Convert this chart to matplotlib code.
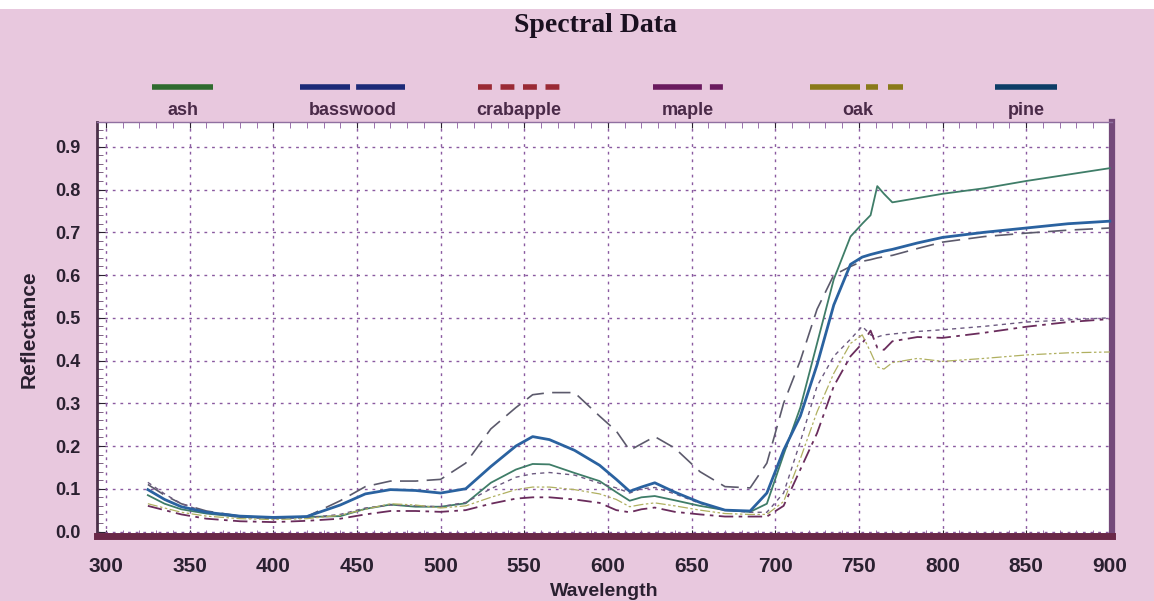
import matplotlib
matplotlib.use("Agg")
import matplotlib.pyplot as plt
from matplotlib.lines import Line2D
from matplotlib.patches import Rectangle
from matplotlib.ticker import MultipleLocator

# ---------------- data ----------------
wavelength = [325, 335, 345, 360, 380, 400, 420, 440, 455, 470, 485, 500, 515, 530, 545,
              555, 565, 580, 595, 605, 613, 620, 628, 640, 655, 670, 685, 695, 705, 715,
              725, 735, 745, 752, 757, 761, 765, 770, 785, 800, 825, 850, 875, 900]

ash = [0.085, 0.065, 0.052, 0.042, 0.034, 0.032, 0.034, 0.036, 0.053, 0.063, 0.058, 0.058, 0.066, 0.114, 0.145,
       0.158, 0.157, 0.137, 0.118, 0.092, 0.072, 0.080, 0.083, 0.073, 0.060, 0.050, 0.046, 0.065, 0.180, 0.290,
       0.440, 0.590, 0.690, 0.720, 0.740, 0.808, 0.790, 0.770, 0.780, 0.790, 0.803, 0.820, 0.835, 0.850]

basswood = [0.110, 0.085, 0.065, 0.048, 0.036, 0.032, 0.035, 0.072, 0.105, 0.118, 0.118, 0.122, 0.160, 0.240, 0.290,
            0.320, 0.325, 0.325, 0.270, 0.235, 0.190, 0.205, 0.222, 0.195, 0.140, 0.105, 0.102, 0.160, 0.300, 0.400,
            0.520, 0.600, 0.620, 0.632, 0.636, 0.640, 0.643, 0.646, 0.662, 0.677, 0.690, 0.698, 0.705, 0.710]

crabapple = [0.115, 0.088, 0.065, 0.045, 0.033, 0.030, 0.032, 0.040, 0.055, 0.062, 0.060, 0.058, 0.068, 0.100, 0.127,
             0.135, 0.138, 0.132, 0.113, 0.102, 0.090, 0.100, 0.103, 0.088, 0.066, 0.050, 0.045, 0.045, 0.090, 0.210,
             0.340, 0.410, 0.450, 0.480, 0.460, 0.455, 0.460, 0.462, 0.468, 0.472, 0.480, 0.490, 0.495, 0.500]

maple = [0.060, 0.050, 0.040, 0.030, 0.024, 0.022, 0.025, 0.030, 0.040, 0.048, 0.048, 0.046, 0.050, 0.065, 0.077,
         0.080, 0.080, 0.075, 0.067, 0.050, 0.045, 0.052, 0.056, 0.046, 0.040, 0.035, 0.035, 0.035, 0.060, 0.145,
         0.230, 0.340, 0.410, 0.440, 0.470, 0.430, 0.425, 0.445, 0.455, 0.453, 0.465, 0.479, 0.490, 0.497]

oak = [0.065, 0.055, 0.045, 0.036, 0.030, 0.028, 0.030, 0.038, 0.052, 0.065, 0.062, 0.055, 0.060, 0.080, 0.098,
       0.104, 0.104, 0.098, 0.088, 0.075, 0.058, 0.063, 0.067, 0.060, 0.050, 0.042, 0.040, 0.040, 0.070, 0.170,
       0.280, 0.370, 0.440, 0.460, 0.420, 0.385, 0.380, 0.395, 0.405, 0.398, 0.405, 0.413, 0.418, 0.420]

pine = [0.098, 0.075, 0.058, 0.045, 0.036, 0.033, 0.035, 0.062, 0.088, 0.098, 0.096, 0.090, 0.100, 0.152, 0.200,
        0.222, 0.215, 0.190, 0.155, 0.122, 0.094, 0.104, 0.114, 0.092, 0.068, 0.050, 0.048, 0.090, 0.190, 0.270,
        0.390, 0.530, 0.625, 0.642, 0.648, 0.652, 0.656, 0.660, 0.675, 0.688, 0.700, 0.710, 0.720, 0.726]

series_names = ["ash", "basswood", "crabapple", "maple", "oak", "pine"]
series_values = [ash, basswood, crabapple, maple, oak, pine]

x_ticks = [300, 350, 400, 450, 500, 550, 600, 650, 700, 750, 800, 850, 900]
y_ticks = [0.0, 0.1, 0.2, 0.3, 0.4, 0.5, 0.6, 0.7, 0.8, 0.9]

# ---------------- styles ----------------
SANS = ["Liberation Sans", "DejaVu Sans"]
plot_styles = {
    "ash":       dict(color="#3f7d68", lw=1.3, ls="-"),
    "basswood":  dict(color="#5c5a6c", lw=1.2, ls=(0, (11, 5))),
    "crabapple": dict(color="#6c5a80", lw=1.0, ls=(0, (3, 3))),
    "maple":     dict(color="#6a2c5c", lw=1.3, ls=(0, (8, 3, 2, 3))),
    "oak":       dict(color="#b0b060", lw=0.9, ls=(0, (8, 2, 2, 2, 2, 2))),
    "pine":      dict(color="#2a62a0", lw=2.0, ls="-"),
}
legend_styles = {
    "ash":       dict(color="#2f6b2f", ls="-"),
    "basswood":  dict(color="#1c2a78", ls=(0, (9.0, 1.1, 8.8, 5))),
    "crabapple": dict(color="#9a2a35", ls=(0, (2.5, 1.55))),
    "maple":     dict(color="#6a1a5e", ls=(0, (8.8, 1.44, 2.34, 10))),
    "oak":       dict(color="#8a7a1a", ls=(0, (9.0, 1.08, 2.16, 1.8, 2.7, 10))),
    "pine":      dict(color="#0d3d66", ls="-"),
}
legend_x = {"ash": (152, 213), "basswood": (300, 405), "crabapple": (478, 560),
            "maple": (653, 723), "oak": (810, 905), "pine": (995, 1057)}

W, H = 1154, 601
fig = plt.figure(figsize=(W / 100, H / 100), dpi=100)
fig.patch.set_facecolor("#e8c8de")
fig.patches.append(Rectangle((0, 1 - 9 / H), 1, 9 / H, transform=fig.transFigure,
                             facecolor="white", edgecolor="none", zorder=0))

left, right, top, bottom = 97, 1112, 122, 536
ax = fig.add_axes([left / W, 1 - bottom / H, (right - left) / W, (bottom - top) / H])
ax.set_facecolor("white")

for name, vals in zip(series_names, series_values):
    st = plot_styles[name]
    ax.plot(wavelength, vals, color=st["color"], lw=st["lw"], linestyle=st["ls"], zorder=3)

ax.set_xlim(294.6, 901.3)
ax.set_ylim(-0.0105, 0.958)
ax.set_xticks(x_ticks)
ax.set_yticks(y_ticks)
ax.set_xticklabels([str(t) for t in x_ticks])
ax.set_yticklabels([f"{t:.1f}" for t in y_ticks])
ax.xaxis.set_minor_locator(MultipleLocator(10))
ax.yaxis.set_minor_locator(MultipleLocator(0.02))

ax.grid(True, which="major", color="#8a5aa0", linestyle=(0, (2, 3.5)), lw=1.0, zorder=1)
ax.tick_params(axis="x", which="major", direction="in", length=4, pad=15, labelsize=15,
               colors="#2a2030", top=True)
ax.tick_params(axis="x", which="minor", direction="in", length=4, color="#8a5aa0", top=True)
ax.tick_params(axis="y", which="major", direction="in", length=6, pad=12, labelsize=13,
               colors="#2a2030")
ax.tick_params(axis="y", which="minor", direction="in", length=4, color="#6a4a70")
for lab in ax.get_xticklabels() + ax.get_yticklabels():
    lab.set_fontweight("bold")
    lab.set_family(SANS)

ax.spines["bottom"].set_color("#6a2848")
ax.spines["bottom"].set_linewidth(5)
ax.spines["left"].set_color("#4a3048")
ax.spines["left"].set_linewidth(2)
ax.spines["right"].set_color("#74497a")
ax.spines["right"].set_linewidth(4.5)
ax.spines["top"].set_color("#9070a0")
ax.spines["top"].set_linewidth(1)

ax.set_xlabel("Wavelength", fontsize=14, fontweight="bold", color="#2a2030",
              family=SANS, labelpad=5)
ax.set_ylabel("Reflectance", fontsize=15, fontweight="bold", color="#2a2030",
              family=SANS, labelpad=12)

fig.text(595 / W, 1 - 25 / H, "Spectral Data", ha="center", va="center", fontsize=20,
         fontweight="bold", family=["Liberation Serif", "DejaVu Serif"], color="#1a1020")

# legend (handle above label)
for name in series_names:
    x0, x1 = legend_x[name]
    st = legend_styles[name]
    fig.add_artist(Line2D([x0 / W, x1 / W], [1 - 87 / H, 1 - 87 / H], transform=fig.transFigure,
                          color=st["color"], lw=4, linestyle=st["ls"], solid_capstyle="butt",
                          dash_capstyle="butt"))
    fig.text((x0 + x1) / 2 / W, 1 - 110 / H, name, ha="center", va="center", fontsize=13,
             fontweight="bold", color="#4a2a48", family=SANS)

fig.savefig("out.png", dpi=100, facecolor=fig.get_facecolor())
